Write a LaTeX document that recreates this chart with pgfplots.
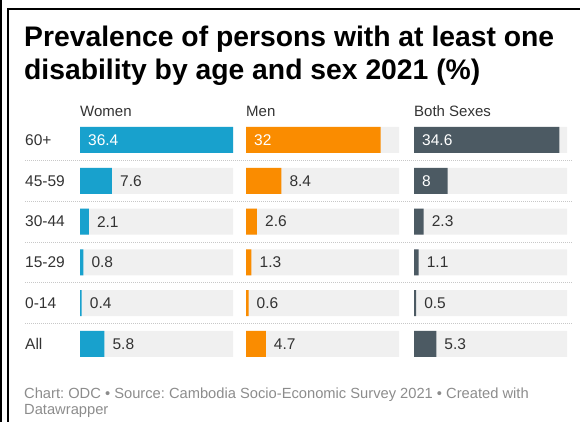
\documentclass[border=0pt]{standalone}
\usepackage{pgfplots}
\pgfplotsset{compat=1.18}
\usepackage{fontspec}
\setmainfont{Liberation Sans}
\frenchspacing
\definecolor{cwomen}{HTML}{18A1CD}
\definecolor{cmen}{HTML}{FA8C00}
\definecolor{cboth}{HTML}{4C5A63}
\definecolor{bggray}{HTML}{F0F0F0}
\definecolor{txt}{HTML}{333333}
\definecolor{foot}{HTML}{8C8C8C}
\definecolor{sep}{HTML}{C8C8C8}
\pgfplotsset{
  panel/.style={
    scale only axis, width=153pt, height=244.8pt,
    anchor=north west,
    xmin=0, xmax=36.4, ymin=-0.5, ymax=5.5, y dir=reverse,
    axis line style={draw=none}, tick style={draw=none},
    xtick=\empty, ytick=\empty,
    clip=false,
    every axis title/.style={at={(0,1)}, anchor=base west, inner sep=0pt, yshift=2.9pt,
      font=\fontsize{15}{18}\selectfont, text=txt},
  },
  bgbar/.style={xbar, bar width=26pt, bar shift=0pt, fill=bggray, draw=none},
  databar/.style={xbar, bar width=26pt, bar shift=0pt, fill=#1, draw=none},
  inlab/.style={only marks, mark=none, point meta=explicit symbolic, nodes near coords,
    every node near coord/.style={anchor=west, inner sep=0pt, xshift=8pt, text=white,
      font=\fontsize{15.5}{18}\selectfont}},
  outlab/.style={only marks, mark=none, point meta=explicit symbolic, nodes near coords,
    every node near coord/.style={anchor=west, inner sep=0pt, xshift=8pt, text=txt,
      font=\fontsize{15.5}{18}\selectfont}},
}
\begin{document}
\begin{tikzpicture}
\path[use as bounding box] (0,0) rectangle (580pt,422pt);
% frame
\fill[black] (0pt,0pt) rectangle (1.8pt,422pt);
\fill[black] (7pt,0pt) rectangle (8.8pt,414pt);
\fill[black] (7pt,412.2pt) rectangle (580pt,414pt);
% title
\node[anchor=base west, inner sep=0pt, font=\fontsize{28.3}{33}\selectfont\bfseries] at (24pt,375.3pt) {Prevalence of persons with at least one};
\node[anchor=base west, inner sep=0pt, font=\fontsize{28.3}{33}\selectfont\bfseries] at (24pt,342.7pt) {disability by age and sex 2021 (\%)};
% separators
\foreach \yy in {160.4,201.2,242.0,282.8,323.6}{
  \draw[sep, line width=0.8pt, dash pattern=on 1pt off 1pt] (25pt,422pt-\yy pt) -- (572pt,422pt-\yy pt);
}
% Women
\begin{axis}[panel, at={(80pt,302.4pt)}, title={Women},
  ytick={0,1,2,3,4,5}, yticklabels={60+,45-59,30-44,15-29,0-14,All},
  yticklabel style={anchor=west, inner sep=0pt, xshift=-55pt, text=txt, font=\fontsize{15.5}{18}\selectfont}]
\addplot[bgbar] coordinates {(36.4,0) (36.4,1) (36.4,2) (36.4,3) (36.4,4) (36.4,5)};
\addplot[databar=cwomen] coordinates {(36.4,0) (7.6,1) (2.1,2) (0.8,3) (0.4,4) (5.8,5)};
\addplot[inlab] coordinates {(0,0) [36.4]};
\addplot[outlab] coordinates {(7.6,1) [7.6] (2.1,2) [2.1] (0.8,3) [0.8] (0.4,4) [0.4] (5.8,5) [5.8]};
\end{axis}
% Men
\begin{axis}[panel, at={(246pt,302.4pt)}, title={Men}]
\addplot[bgbar] coordinates {(36.4,0) (36.4,1) (36.4,2) (36.4,3) (36.4,4) (36.4,5)};
\addplot[databar=cmen] coordinates {(32,0) (8.4,1) (2.6,2) (1.3,3) (0.6,4) (4.7,5)};
\addplot[inlab] coordinates {(0,0) [32]};
\addplot[outlab] coordinates {(8.4,1) [8.4] (2.6,2) [2.6] (1.3,3) [1.3] (0.6,4) [0.6] (4.7,5) [4.7]};
\end{axis}
% Both
\begin{axis}[panel, at={(414pt,302.4pt)}, title={Both Sexes}]
\addplot[bgbar] coordinates {(36.4,0) (36.4,1) (36.4,2) (36.4,3) (36.4,4) (36.4,5)};
\addplot[databar=cboth] coordinates {(34.6,0) (8,1) (2.3,2) (1.1,3) (0.5,4) (5.3,5)};
\addplot[inlab] coordinates {(0,0) [34.6] (0,1) [8]};
\addplot[outlab] coordinates {(2.3,2) [2.3] (1.1,3) [1.1] (0.5,4) [0.5] (5.3,5) [5.3]};
\end{axis}
% footer
\node[anchor=base west, inner sep=0pt, text=foot, font=\fontsize{14.7}{16}\selectfont] at (24pt,23.3pt) {Chart: ODC • Source: Cambodia Socio-Economic Survey 2021 • Created with};
\node[anchor=base west, inner sep=0pt, text=foot, font=\fontsize{14.7}{16}\selectfont] at (24pt,7.3pt) {Datawrapper};
\end{tikzpicture}
\end{document}
